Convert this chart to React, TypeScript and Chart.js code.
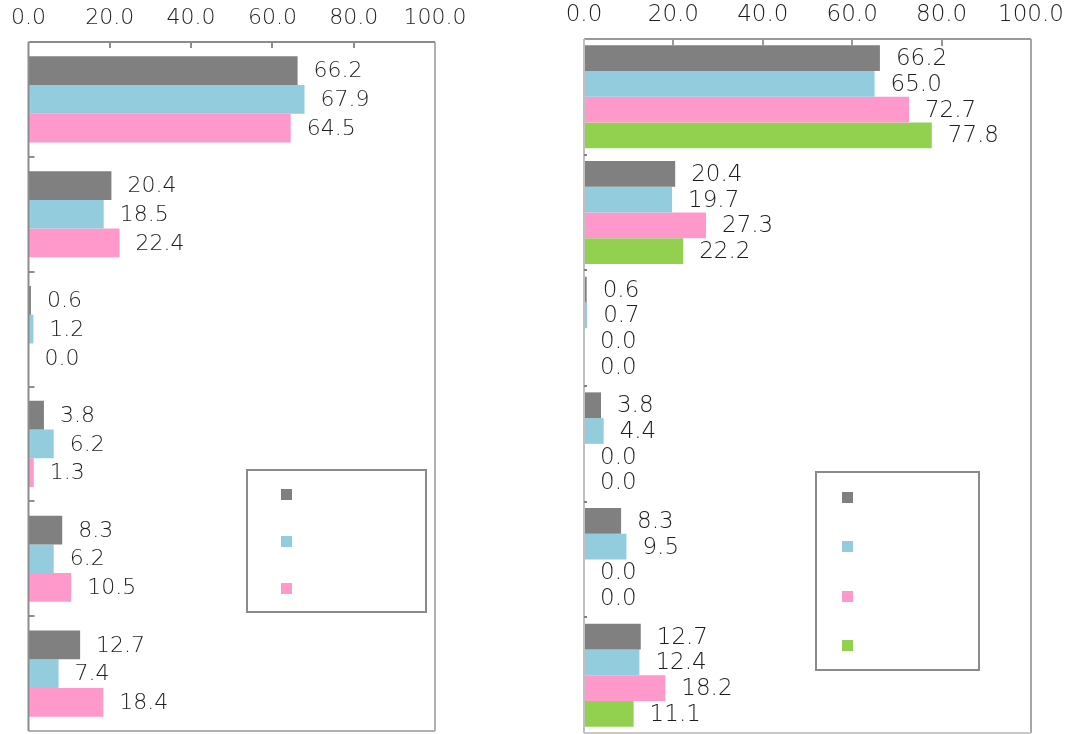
import React, { useEffect, useRef } from "react";
import { Chart, registerables } from "chart.js";

Chart.register(...registerables);

// ---- data ----
const categories = ["", "", "", "", "", ""];
const xTickMin = 0;
const xTickMax = 100;
const xTickStep = 20;

const leftGray = [66.2, 20.4, 0.6, 3.8, 8.3, 12.7];
const leftCyan = [67.9, 18.5, 1.2, 6.2, 6.2, 7.4];
const leftPink = [64.5, 22.4, 0.0, 1.3, 10.5, 18.4];

const rightGray = [66.2, 20.4, 0.6, 3.8, 8.3, 12.7];
const rightCyan = [65.0, 19.7, 0.7, 4.4, 9.5, 12.4];
const rightPink = [72.7, 27.3, 0.0, 0.0, 0.0, 18.2];
const rightGreen = [77.8, 22.2, 0.0, 0.0, 0.0, 11.1];

const legendLabels = ["", "", "", ""];

const GRAY = "#808080";
const CYAN = "#93CDDD";
const PINK = "#FF99CC";
const GREEN = "#92D050";
const TEXT = "#1e1e1e";
const FONT = "'DejaVu Sans', sans-serif";
const WEIGHT = "200";

type PanelCfg = {
  width: number;
  height: number;
  series: { data: number[]; color: string }[];
  catPct: number;
  pad: { left: number; right: number; top: number; bottom: number };
  axisHeight: number;
  tickPad: number;
  fontSize: number;
  labelFont: number;
  labelOffset: number;
  frame: { top: string; left: string; right: string; bottom: string };
  xTickLen: number;
  yTickLen: number;
  yTickColor: string;
  legend: { x: number; y: number; w: number; h: number; sqX: number; sqY: number[]; sq: number };
};

function makePlugin(cfg: PanelCfg) {
  return {
    id: "panelDecor",
    afterDatasetsDraw(chart: any) {
      const ctx = chart.ctx as CanvasRenderingContext2D;
      const area = chart.chartArea;
      const xs = chart.scales.x;
      const ys = chart.scales.y;
      ctx.save();
      // data labels
      ctx.font = `${WEIGHT} ${cfg.labelFont}px ${FONT}`;
      ctx.fillStyle = TEXT;
      ctx.textAlign = "left";
      ctx.textBaseline = "middle";
      chart.data.datasets.forEach((ds: any, di: number) => {
        const meta = chart.getDatasetMeta(di);
        meta.data.forEach((el: any, i: number) => {
          const v = ds.data[i] as number;
          ctx.fillText(v.toFixed(1), el.x + cfg.labelOffset, el.y + 1);
        });
      });
      // frame
      ctx.lineWidth = 2;
      const line = (x1: number, y1: number, x2: number, y2: number, c: string) => {
        ctx.strokeStyle = c;
        ctx.beginPath();
        ctx.moveTo(x1, y1);
        ctx.lineTo(x2, y2);
        ctx.stroke();
      };
      line(area.right, area.top, area.right, area.bottom, cfg.frame.right);
      line(area.left, area.bottom, area.right, area.bottom, cfg.frame.bottom);
      line(area.left, area.top, area.right, area.top, cfg.frame.top);
      line(area.left, area.top, area.left, area.bottom, cfg.frame.left);
      // inner ticks on top axis
      for (let v = xTickMin + xTickStep; v < xTickMax; v += xTickStep) {
        const px = Math.round(xs.getPixelForValue(v));
        line(px, area.top, px, area.top + cfg.xTickLen, cfg.frame.top);
      }
      // inner ticks on category axis (boundaries)
      const step = ys.getPixelForValue(1) - ys.getPixelForValue(0);
      for (let i = 1; i < categories.length; i++) {
        const py = Math.round(ys.getPixelForValue(i) - step / 2);
        line(area.left, py, area.left + cfg.yTickLen, py, cfg.yTickColor);
      }
      // legend box
      const L = cfg.legend;
      ctx.fillStyle = "#ffffff";
      ctx.fillRect(L.x, L.y, L.w, L.h);
      ctx.strokeStyle = "#8a8a8a";
      ctx.lineWidth = 2;
      ctx.strokeRect(L.x, L.y, L.w, L.h);
      chart.data.datasets.forEach((ds: any, di: number) => {
        ctx.fillStyle = ds.backgroundColor;
        ctx.fillRect(L.sqX, L.sqY[di], L.sq, L.sq);
        ctx.fillStyle = TEXT;
        ctx.font = `${WEIGHT} ${cfg.fontSize}px ${FONT}`;
        ctx.fillText(ds.label, L.sqX + L.sq + 8, L.sqY[di] + L.sq / 2);
      });
      ctx.restore();
    },
  };
}

function Panel({ cfg, left }: { cfg: PanelCfg; left: number }) {
  const ref = useRef<HTMLCanvasElement | null>(null);
  useEffect(() => {
    if (!ref.current) return;
    const chart = new Chart(ref.current, {
      type: "bar",
      data: {
        labels: categories,
        datasets: cfg.series.map((s, i) => ({
          label: legendLabels[i],
          data: s.data,
          backgroundColor: s.color,
          borderWidth: 0,
          categoryPercentage: cfg.catPct,
          barPercentage: 1,
        })),
      },
      options: {
        indexAxis: "y",
        responsive: false,
        animation: false,
        layout: { padding: cfg.pad },
        scales: {
          x: {
            position: "top",
            min: xTickMin,
            max: xTickMax,
            ticks: {
              stepSize: xTickStep,
              padding: cfg.tickPad,
              color: TEXT,
              font: { family: FONT, size: cfg.fontSize, weight: WEIGHT },
              callback: (v: any) => Number(v).toFixed(1),
            },
            grid: { display: false, drawTicks: false },
            border: { display: false },
            afterFit: (scale: any) => {
              scale.height = cfg.axisHeight;
            },
          },
          y: { display: false },
        },
        plugins: { legend: { display: false }, tooltip: { enabled: false } },
      } as any,
      plugins: [makePlugin(cfg)],
    });
    return () => chart.destroy();
  }, [cfg]);
  return (
    <canvas
      ref={ref}
      width={cfg.width}
      height={cfg.height}
      style={{ position: "absolute", left, top: 0, width: cfg.width, height: cfg.height }}
    />
  );
}

const leftCfg: PanelCfg = {
  width: 540,
  height: 734,
  series: [
    { data: leftGray, color: GRAY },
    { data: leftCyan, color: CYAN },
    { data: leftPink, color: PINK },
  ],
  catPct: 0.75,
  pad: { left: 27, right: 105, top: 0, bottom: 3 },
  axisHeight: 42,
  tickPad: 11,
  fontSize: 22,
  labelFont: 22,
  labelOffset: 16,
  frame: { top: "#8c8c8c", left: "#8c8c8c", right: "#b0b0b0", bottom: "#b0b0b0" },
  xTickLen: 6,
  yTickLen: 6,
  yTickColor: "#8c8c8c",
  legend: { x: 247, y: 470, w: 179, h: 142, sqX: 281, sqY: [489, 536, 583], sq: 11 },
};

const rightCfg: PanelCfg = {
  width: 539,
  height: 734,
  series: [
    { data: rightGray, color: GRAY },
    { data: rightCyan, color: CYAN },
    { data: rightPink, color: PINK },
    { data: rightGreen, color: GREEN },
  ],
  catPct: 0.89,
  pad: { left: 44, right: 48, top: 0, bottom: 1 },
  axisHeight: 39,
  tickPad: 10,
  fontSize: 23,
  labelFont: 23,
  labelOffset: 16,
  frame: { top: "#999999", left: "#c0c0c0", right: "#a6a6a6", bottom: "#c8c8c8" },
  xTickLen: 7,
  yTickLen: 3,
  yTickColor: "#808080",
  legend: { x: 276, y: 472, w: 163, h: 198, sqX: 302, sqY: [492, 541, 591, 640], sq: 11 },
};

export default function App() {
  return (
    <div style={{ position: "absolute", left: 0, top: 0, width: 1079, height: 734, background: "#fff" }}>
      <Panel cfg={leftCfg} left={0} />
      <Panel cfg={rightCfg} left={540} />
    </div>
  );
}
